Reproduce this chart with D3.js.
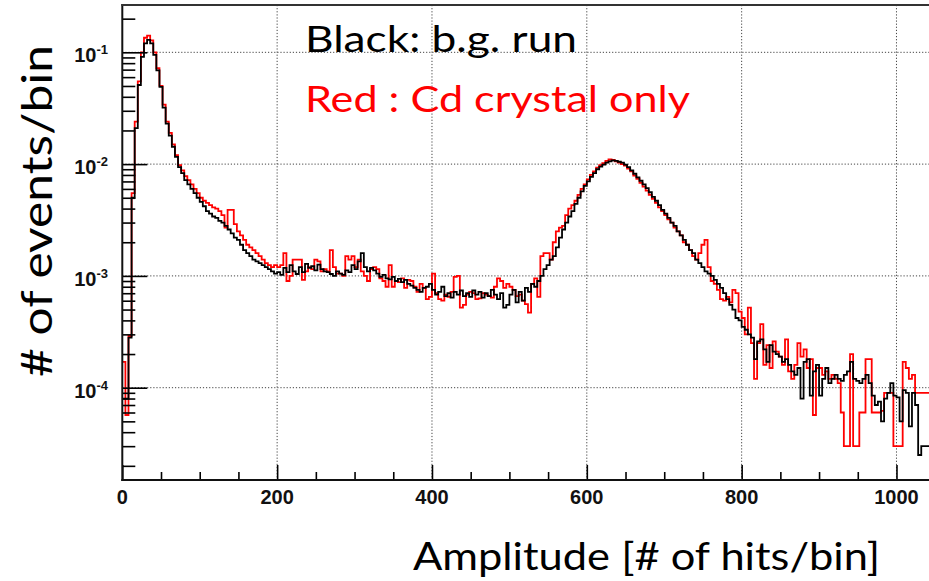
<!DOCTYPE html>
<html><head><meta charset="utf-8">
<script src="https://cdn.jsdelivr.net/npm/d3@7"></script>
<style>html,body{margin:0;padding:0;background:#fff;} svg{display:block}</style>
</head><body>
<script>
// ---------------- data ----------------
const binWidth = 4;                  // amplitude units per histogram bin
const xDomain = [0, 1042];
const yDomain = [1.494e-5, 0.265];
const xMajorTicks = [0, 200, 400, 600, 800, 1000];
const xTickLabels = ["0", "200", "400", "600", "800", "1000"];
const yDecades = [1e-1, 1e-2, 1e-3, 1e-4];
const yTickExp = ["-1", "-2", "-3", "-4"];
const legendLines = ["Black: b.g. run", "Red : Cd crystal only"];
const xTitle = "Amplitude [# of hits/bin]";
const yTitle = "# of events/bin";

// black: background run
const blackRun = [
  8e-5, 8e-5, 2.8e-4, 5e-3, 0.021, 0.051, 0.091, 0.12, 0.129, 0.12, 0.095,
  0.069, 0.049, 0.032, 0.023, 0.018, 0.0143, 0.0116, 0.0094, 0.0083, 0.0072,
  0.0066, 0.006, 0.0055, 0.0050, 0.0046, 0.0042, 0.0038, 0.0036, 0.0034, 0.0033,
  0.0031, 0.003, 0.0028, 0.0026, 0.0024, 0.0022, 0.0021, 0.0019, 0.0017, 0.0016,
  0.0015, 0.0014, 0.00135, 0.0013, 0.00125, 0.0012, 0.00115, 0.0011, 0.00105, 0.00108,
  0.00102, 0.00118, 0.00108, 0.00125, 0.0011, 0.00104, 0.0012, 0.00108, 0.00128, 0.00118,
  0.00122, 0.00112, 0.00126, 0.00115, 0.0011,
  0.00108, 0.00104, 0.001, 0.0011, 0.00105, 0.00102, 0.00112, 0.00108, 0.00125, 0.00115,
  0.00135, 0.0016, 0.0012, 0.0011, 0.00118,
  0.00112, 0.00105, 0.00098, 0.00102, 0.00095, 0.00093, 0.00098, 0.0009, 0.00094, 0.00088,
  0.00092, 0.00085, 0.00082, 0.00078, 0.00075,
  0.00072, 0.00078, 0.0008, 0.00085, 0.00075, 0.00068, 0.00072, 0.0008, 0.00066, 0.0007,
  0.00064, 0.00072, 0.00068, 0.00074, 0.00066,
  0.0007, 0.00065, 0.00074, 0.00068, 0.00072, 0.00064, 0.0007, 0.00066, 0.00075, 0.00068,
  0.00062, 0.0007, 0.00052, 0.00055, 0.00068,
  0.00075, 0.00058, 0.00072, 0.0006, 0.00078, 0.00072, 0.00085, 0.0008, 0.0009, 0.001,
  0.00115, 0.00125, 0.0014, 0.0015, 0.0018, 0.0022, 0.0026, 0.003, 0.0034, 0.0038,
  0.0044, 0.005, 0.0057, 0.0064, 0.007, 0.0077, 0.0083, 0.009, 0.0095, 0.0099,
  0.0103, 0.0106, 0.0108, 0.0107, 0.0105,
  0.0103, 0.0099, 0.0094, 0.0088, 0.0082, 0.0076, 0.0071, 0.0066, 0.0061, 0.0056,
  0.0051, 0.0047, 0.0043, 0.0039, 0.0036,
  0.0033, 0.003, 0.0028, 0.0025, 0.0023, 0.0021, 0.0019, 0.0017, 0.0016, 0.0014,
  0.0013, 0.0012, 0.0011, 0.00105, 0.001,
  0.00092, 0.00085, 0.00078, 0.0007, 0.00062, 0.00055, 0.0005, 0.00042, 0.0004, 0.00035,
  0.00033, 0.0003, 0.00028, 0.00018, 0.00026, 0.00027, 0.00022, 0.00017, 0.00024, 0.00021,
  0.0002, 0.00019, 0.00017, 0.00018, 0.00016,
  0.00014, 0.00013, 0.00015, 0.00008, 0.00017, 0.00018, 0.000085, 0.00014, 0.00016, 0.000085,
  0.00012, 0.00015, 0.00011, 0.00012, 0.00013,
  0.00012, 0.000115, 0.00013, 0.00014, 0.00017, 0.00012, 0.000115, 0.00011, 0.00012, 0.00013,
  0.00011, 0.000085, 0.00007, 0.000075, 0.00005,
  0.00008, 0.00009, 0.00011, 0.000085, 0.000082, 0.00005, 0.000095, 0.00009, 0.000045, 0.00009,
  0.00007, 0.000025, 0.00003, 0.00003, 0.00003, 0.00003
];

// red: Cd crystal only
const redRun = [
  1.7e-4, 5.7e-5, 2.9e-4, 5.5e-3, 0.024, 0.055, 0.1, 0.135, 0.141, 0.128, 0.1,
  0.072, 0.05, 0.034, 0.024, 0.019, 0.015, 0.012, 0.0098, 0.0088, 0.0078,
  0.0072, 0.0066, 0.006, 0.0055, 0.005, 0.0047, 0.0045, 0.0043, 0.0041, 0.004,
  0.0038, 0.0035, 0.0027, 0.0039, 0.0039, 0.0029, 0.0025, 0.0023, 0.0021, 0.0019,
  0.0018, 0.0017, 0.0016, 0.0015, 0.0014, 0.0013, 0.00125, 0.0012, 0.00125, 0.0012,
  0.00125, 0.0016, 0.0009, 0.001, 0.0014, 0.0014, 0.0014, 0.00092, 0.0011, 0.0012,
  0.00115, 0.0014, 0.00135, 0.0011, 0.00115,
  0.0011, 0.0017, 0.0012, 0.00105, 0.00105, 0.001, 0.0015, 0.0014, 0.0015, 0.0012,
  0.0014, 0.0011, 0.001, 0.0009, 0.00115,
  0.0012, 0.00115, 0.00095, 0.0009, 0.0008, 0.00125, 0.0008, 0.0009, 0.00088, 0.00095,
  0.00078, 0.00092, 0.0009, 0.0008, 0.00072,
  0.00085, 0.00078, 0.00062, 0.00065, 0.00105, 0.0007, 0.00062, 0.0006, 0.00068, 0.00065,
  0.00072, 0.00098, 0.001, 0.00052, 0.00055,
  0.00068, 0.00072, 0.0007, 0.00062, 0.00063, 0.0007, 0.00068, 0.00066, 0.00064, 0.0008,
  0.00095, 0.0009, 0.00078, 0.00085, 0.0008,
  0.00075, 0.00066, 0.00068, 0.0006, 0.00056, 0.00047, 0.00085, 0.00095, 0.00065, 0.0015,
  0.0016, 0.0016, 0.0014, 0.002, 0.0025, 0.0027, 0.0028, 0.0035, 0.004, 0.0043,
  0.0047, 0.0053, 0.006, 0.0066, 0.0073, 0.008, 0.0086, 0.0093, 0.0098, 0.0102,
  0.0107, 0.011, 0.0109, 0.0106, 0.0103, 0.01, 0.0097, 0.0091, 0.0086, 0.0079,
  0.0074, 0.0068, 0.0063, 0.0058, 0.0053, 0.0049, 0.0045, 0.0041, 0.0038, 0.0035,
  0.0032, 0.003, 0.0027, 0.0025, 0.0023, 0.002, 0.0019, 0.0017, 0.0015, 0.0014,
  0.0016, 0.0019, 0.0021, 0.0012, 0.0009,
  0.00085, 0.00075, 0.00062, 0.0006, 0.00065, 0.00058, 0.00075, 0.0007, 0.00048, 0.00042,
  0.0003, 0.00052, 0.00025, 0.00012, 0.00025, 0.00037, 0.00016, 0.00024, 0.00015, 0.00026,
  0.00021, 0.00019, 0.00016, 0.00027, 0.00014,
  0.00012, 0.00016, 0.00025, 0.00019, 0.00022, 0.00015, 0.00018, 0.000057, 0.00015, 0.00015,
  0.00013, 0.00014, 0.00012, 0.00013, 0.00012,
  0.00011, 0.00006, 0.00003, 0.00003, 0.0002, 0.00003, 0.00003, 0.00006, 0.00006, 0.00018,
  0.00018, 0.00006, 0.00006, 0.00006, 0.000062,
  0.00009, 0.00009, 0.00009, 0.00003, 0.00003, 0.00003, 0.00017, 0.00015, 0.00012, 0.00013,
  0.00009, 0.00009, 0.00009, 0.00009, 0.00009, 0.00009
];

// ---------------- drawing ----------------
const W = 929, H = 581;
const plot = {left: 122.3, right: 929, top: 5, bottom: 480};

const svg = d3.select("body").append("svg")
  .attr("width", W).attr("height", H)
  .style("background", "#fff");

const x = d3.scaleLinear().domain(xDomain).range([plot.left, plot.right]);
const y = d3.scaleLog().domain(yDomain).range([plot.bottom, plot.top]);

svg.append("defs").append("clipPath").attr("id", "plotclip")
  .append("rect").attr("x", plot.left).attr("y", plot.top)
  .attr("width", plot.right - plot.left).attr("height", plot.bottom - plot.top);

// grid
const grid = svg.append("g").attr("stroke", "#444").attr("stroke-width", 1)
  .attr("stroke-dasharray", "1.2,1.9");
grid.selectAll("line.gx").data(xMajorTicks.filter(d => d > 0)).join("line")
  .attr("x1", d => x(d)).attr("x2", d => x(d))
  .attr("y1", plot.top).attr("y2", plot.bottom);
grid.selectAll("line.gy").data(yDecades).join("line")
  .attr("x1", plot.left).attr("x2", plot.right)
  .attr("y1", d => y(d)).attr("y2", d => y(d));

// histograms
function stepPoints(arr) {
  const pts = arr.map((v, i) => [i * binWidth, v]);
  pts.push([arr.length * binWidth, arr[arr.length - 1]]);
  return pts;
}
const line = d3.line().curve(d3.curveStepAfter)
  .x(d => x(d[0])).y(d => y(d[1]));
const hg = svg.append("g").attr("clip-path", "url(#plotclip)");
hg.append("path").attr("d", line(stepPoints(redRun)))
  .attr("fill", "none").attr("stroke", "#ff0000").attr("stroke-width", 1.8);
hg.append("path").attr("d", line(stepPoints(blackRun)))
  .attr("fill", "none").attr("stroke", "#000").attr("stroke-width", 1.8);

// axes via d3 axis generators, ticks drawn inward
const xMinor = d3.range(0, 1050, 50).filter(d => !xMajorTicks.includes(d));
const xAxisMinor = d3.axisTop(x).tickValues(xMinor).tickSize(8).tickFormat("");
const xAxisMajor = d3.axisTop(x).tickValues(xMajorTicks).tickSize(15).tickFormat("");
[xAxisMinor, xAxisMajor].forEach(ax => {
  const g = svg.append("g").attr("transform", `translate(0,${plot.bottom})`).call(ax);
  g.select(".domain").remove();
  g.selectAll("line").attr("stroke", "#000").attr("stroke-width", 1.6);
});
const yMinor = [];
[1e-5, 1e-4, 1e-3, 1e-2, 1e-1].forEach(dec => {
  for (let k = 2; k <= 9; k++) {
    const v = k * dec;
    if (v >= yDomain[0] && v <= yDomain[1]) yMinor.push(v);
  }
});
const yAxisMinor = d3.axisRight(y).tickValues(yMinor).tickSize(13).tickFormat("");
const yAxisMajor = d3.axisRight(y).tickValues(yDecades).tickSize(25).tickFormat("");
[yAxisMinor, yAxisMajor].forEach(ax => {
  const g = svg.append("g").attr("transform", `translate(${plot.left},0)`).call(ax);
  g.select(".domain").remove();
  g.selectAll("line").attr("stroke", "#000").attr("stroke-width", 1.6);
});

// frame
svg.append("line").attr("x1", plot.left).attr("x2", plot.left)
  .attr("y1", plot.top - 1).attr("y2", plot.bottom + 1)
  .attr("stroke", "#111").attr("stroke-width", 2);
svg.append("line").attr("x1", plot.left - 1).attr("x2", W)
  .attr("y1", plot.bottom).attr("y2", plot.bottom)
  .attr("stroke", "#111").attr("stroke-width", 2);
svg.append("line").attr("x1", plot.left - 1).attr("x2", W)
  .attr("y1", plot.top).attr("y2", plot.top)
  .attr("stroke", "#333").attr("stroke-width", 2);

// tick labels
const labelFont = "'Liberation Sans', Arial, Helvetica, sans-serif";
svg.append("g").selectAll("text").data(xMajorTicks).join("text")
  .attr("x", d => x(d)).attr("y", 504)
  .attr("text-anchor", "middle")
  .attr("font-family", labelFont).attr("font-weight", "bold").attr("font-size", 20)
  .attr("fill", "#111")
  .text((d, i) => xTickLabels[i]);

const yl = svg.append("g").selectAll("text").data(yDecades).join("text")
  .attr("x", 108).attr("y", d => y(d) + 10)
  .attr("text-anchor", "end")
  .attr("font-family", labelFont).attr("font-weight", "bold").attr("font-size", 20)
  .attr("fill", "#111");
yl.append("tspan").text("10");
yl.append("tspan").attr("font-size", 13).attr("dy", -8).text((d, i) => yTickExp[i]);

// legend texts
const textFont = "Lato, 'Open Sans', sans-serif";
svg.append("text").attr("x", 305).attr("y", 51.5)
  .attr("font-family", textFont).attr("font-size", 37).attr("fill", "#000")
  .attr("textLength", 272).attr("lengthAdjust", "spacingAndGlyphs")
  .text(legendLines[0]);
svg.append("text").attr("x", 305).attr("y", 111.5)
  .attr("font-family", textFont).attr("font-size", 37).attr("fill", "#ff0000")
  .attr("textLength", 385).attr("lengthAdjust", "spacingAndGlyphs")
  .text(legendLines[1]);

// axis titles
svg.append("text").attr("x", 413).attr("y", 570)
  .attr("font-family", textFont).attr("font-size", 39.5).attr("fill", "#000")
  .attr("textLength", 467).attr("lengthAdjust", "spacingAndGlyphs")
  .text(xTitle);
svg.append("text")
  .attr("transform", "translate(52,377) rotate(-90)")
  .attr("font-family", textFont).attr("font-size", 42).attr("fill", "#000")
  .attr("textLength", 332).attr("lengthAdjust", "spacingAndGlyphs")
  .text(yTitle);
</script>
</body></html>
